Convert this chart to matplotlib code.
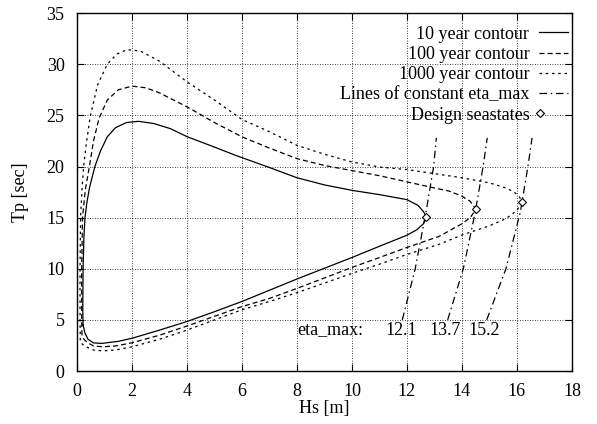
import matplotlib
matplotlib.use("Agg")
import matplotlib.pyplot as plt
from matplotlib.legend_handler import HandlerLine2D

plt.rcParams["font.family"] = ["Liberation Serif", "DejaVu Serif"]
plt.rcParams["font.size"] = 13

# contours (Hs [m], Tp [sec]), going round each loop
hs_10 = [0.22, 0.21, 0.22, 0.25, 0.29, 0.36, 0.46, 0.65, 0.85, 1.1, 1.4, 1.8, 2.24, 2.8, 3.4, 4.0,
         5.0, 5.76, 7.0, 8.0, 9.0, 10.0, 11.0, 12.0, 12.4, 12.6, 12.7, 12.6, 12.35, 12.0, 11.0, 10.0,
         9.0, 8.0, 7.0, 6.0, 5.0, 4.0, 3.0, 2.0, 1.5, 0.9, 0.6, 0.4, 0.29, 0.22]
tp_10 = [4.5, 6.0, 10.0, 13.0, 15.0, 16.5, 18.0, 20.0, 21.5, 22.9, 23.8, 24.3, 24.42, 24.2, 23.7, 22.92,
         21.9, 21.1, 19.9, 18.9, 18.2, 17.67, 17.25, 16.76, 16.2, 15.6, 15.1, 14.4, 13.8, 13.28, 12.2, 11.1,
         10.05, 9.0, 7.9, 6.8, 5.8, 4.84, 4.0, 3.2, 2.9, 2.7, 2.75, 3.1, 3.7, 4.5]

hs_100 = [0.18, 0.17, 0.17, 0.2, 0.3, 0.45, 0.6, 0.8, 1.1, 1.5, 2.0, 2.5, 3.0, 4.0, 5.0, 6.0, 7.0,
          8.0, 9.0, 10.0, 11.0, 12.0, 13.0, 13.53, 14.0, 14.3, 14.51, 14.3, 14.0, 13.18, 12.0, 11.0,
          10.0, 9.0, 8.0, 7.0, 6.0, 5.0, 4.0, 3.0, 2.0, 1.4, 0.94, 0.6, 0.4, 0.25, 0.18]
tp_100 = [3.5, 5.0, 10.0, 15.0, 17.7, 20.0, 22.5, 24.7, 26.5, 27.5, 27.86, 27.7, 27.2, 25.84, 24.3, 22.9, 21.8,
          20.77, 20.1, 19.6, 19.1, 18.5, 17.9, 17.6, 17.1, 16.6, 15.8, 15.0, 14.4, 13.18, 12.08, 11.1,
          10.13, 9.1, 8.08, 7.1, 6.3, 5.35, 4.4, 3.5, 2.76, 2.45, 2.37, 2.45, 2.75, 3.1, 3.5]

hs_1000 = [0.12, 0.11, 0.11, 0.13, 0.18, 0.24, 0.35, 0.49, 0.75, 1.1, 1.45, 1.82, 2.3, 3.0, 4.0, 5.0,
           6.0, 7.0, 8.0, 9.0, 10.0, 11.0, 12.0, 13.0, 14.0, 15.0, 15.6, 15.9, 16.1, 16.17, 16.0, 15.6,
           15.0, 14.0, 13.18, 12.0, 11.0, 10.0, 9.0, 8.0, 7.0, 6.0, 5.0, 4.0, 3.0, 2.0, 1.4, 0.94,
           0.6, 0.35, 0.2, 0.12]
tp_1000 = [3.0, 5.0, 10.0, 15.0, 17.7, 20.0, 22.5, 25.0, 28.0, 30.0, 31.0, 31.43, 31.3, 30.3, 28.28, 26.5,
           24.6, 23.4, 22.07, 21.2, 20.44, 19.95, 19.7, 19.3, 18.9, 18.4, 17.9, 17.5, 17.0, 16.5, 15.7, 14.9,
           14.2, 13.3, 12.4, 11.4, 10.45, 9.55, 8.6, 7.66, 6.8, 5.99, 5.0, 4.0, 3.1, 2.37, 2.05, 1.97,
           2.05, 2.35, 2.6, 3.0]

# lines of constant eta_max
eta_labels = ["12.1", "13.7", "15.2"]
eta_tp = [5.0, 10.0, 15.5, 20.0, 22.8]
eta_hs = [
    [11.83, 12.3, 12.69, 12.97, 13.07],
    [13.48, 14.05, 14.48, 14.77, 14.92],
    [14.9, 15.6, 16.12, 16.4, 16.55],
]
eta_label_x = [11.2, 12.8, 14.25]

# design seastates
design_hs = [12.7, 14.5, 16.2]
design_tp = [15.1, 15.8, 16.5]


class LeftMarker(HandlerLine2D):
    # gnuplot puts the point at the start of the key sample
    def get_xdata(self, legend, xdescent, ydescent, width, height, fontsize):
        # with one point the marker sits in the middle of xdata, so keep it short
        return [-xdescent, -xdescent + 0.04 * width], [-xdescent + 0.02 * width]


fig = plt.figure(figsize=(5.97, 4.24), dpi=100)
ax = fig.add_axes([0.129, 0.125, 0.829, 0.844])

lw = 0.9
ax.plot(hs_10, tp_10, color="black", lw=lw, label="10 year contour")
ax.plot(hs_100, tp_100, color="black", lw=lw, dashes=(4, 2.5), label="100 year contour")
ax.plot(hs_1000, tp_1000, color="black", lw=lw, dashes=(2, 3), label="1000 year contour")
for i, xs in enumerate(eta_hs):
    ax.plot(xs, eta_tp, color="black", lw=lw, dashes=(6, 3, 1.2, 3),
            label="Lines of constant eta_max" if i == 0 else None)
pts, = ax.plot(design_hs, design_tp, linestyle="none", marker="D", markersize=4.5,
               markerfacecolor="white", markeredgecolor="black", markeredgewidth=0.8,
               label="Design seastates")

ax.text(8.0, 4.0, "eta_max:", ha="left", va="center")
for x, s in zip(eta_label_x, eta_labels):
    ax.text(x, 4.0, s, ha="left", va="center")

ax.set_xlim(0, 18)
ax.set_ylim(0, 35)
ax.set_xticks(range(0, 19, 2))
ax.set_yticks(range(0, 36, 5))
ax.grid(True, color="black", linestyle=(0, (1, 2)), linewidth=0.6)
ax.tick_params(direction="in", top=True, right=True, length=5, width=0.8)
ax.tick_params(axis="x", pad=9)
ax.tick_params(axis="y", pad=9)
for sp in ax.spines.values():
    sp.set_linewidth(1.0)

ax.set_xlabel("Hs [m]", labelpad=0)
ax.set_ylabel("Tp [sec]", labelpad=12.5)

ax.legend(loc="upper right", frameon=False, markerfirst=False, handlelength=1.6,
          handletextpad=0.55, labelspacing=0.18, borderaxespad=0.0,
          bbox_to_anchor=(1.007, 0.985), handler_map={pts: LeftMarker()})

fig.savefig("out.png", dpi=100)
